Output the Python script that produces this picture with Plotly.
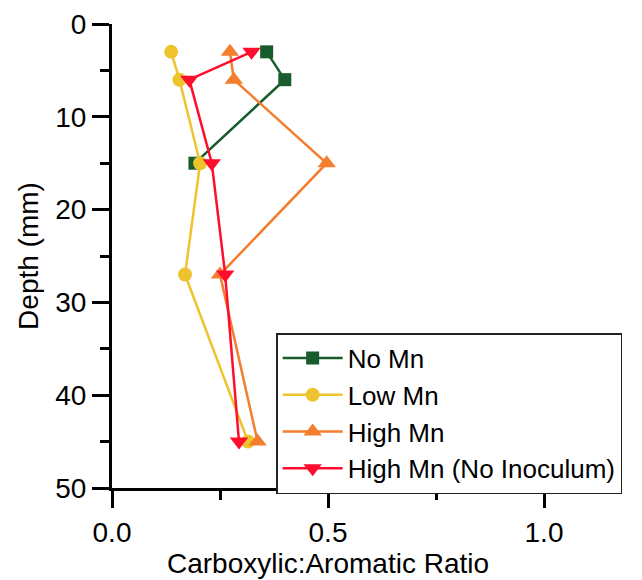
import plotly.graph_objects as go

series_names = ["No Mn", "Low Mn", "High Mn", "High Mn (No Inoculum)"]
depth_no_mn = [3, 6, 15]
ratio_no_mn = [0.358, 0.400, 0.192]
depth_low_mn = [3, 6, 15, 27, 45]
ratio_low_mn = [0.137, 0.156, 0.204, 0.169, 0.315]
depth_high_mn = [3, 6, 15, 27, 45]
ratio_high_mn = [0.273, 0.282, 0.497, 0.250, 0.337]
depth_high_noinoc = [3, 6, 15, 27, 45]
ratio_high_noinoc = [0.323, 0.179, 0.231, 0.262, 0.294]

x_ticks = [0.0, 0.5, 1.0]
x_tick_labels = ["0.0", "0.5", "1.0"]
y_ticks = [0, 10, 20, 30, 40, 50]

colors = ["#165c2c", "#eec42e", "#f47d2e", "#ff0d2d"]
symbols = ["square", "circle", "triangle-up", "triangle-down"]
sizes = [13, 14, 16, 16]

data = [
    (ratio_no_mn, depth_no_mn),
    (ratio_low_mn, depth_low_mn),
    (ratio_high_mn, depth_high_mn),
    (ratio_high_noinoc, depth_high_noinoc),
]

fig = go.Figure()
for i, (xs, ys) in enumerate(data):
    fig.add_trace(go.Scatter(
        x=xs, y=ys, mode="lines+markers", name=series_names[i],
        line=dict(color=colors[i], width=2.5),
        marker=dict(color=colors[i], symbol=symbols[i], size=sizes[i], line=dict(width=0)),
        cliponaxis=False,
    ))

FS = 28
font_family = "Liberation Sans, Arial, sans-serif"
fig.update_layout(
    width=634, height=572,
    margin=dict(l=104, r=98, t=16, b=92, autoexpand=False),
    paper_bgcolor="white", plot_bgcolor="white",
    font=dict(family=font_family, size=FS, color="black"),
    showlegend=True,
    legend=dict(
        x=0.38, y=0.334, xanchor="left", yanchor="top",
        bordercolor="#222222", borderwidth=1.5, bgcolor="white",
        font=dict(size=26), itemwidth=60, tracegroupgap=0,
    ),
)
fig.update_xaxes(
    range=[0, 1.0], tickvals=x_ticks, ticktext=x_tick_labels, automargin=False,
    showgrid=False, zeroline=False, showline=True, linecolor="black", linewidth=3,
    ticks="outside", ticklen=17, tickwidth=3, tickcolor="black",
    tickfont=dict(size=FS),
    minor=dict(dtick=0.25, ticks="outside", ticklen=9, tickwidth=3, tickcolor="black"),
    title=dict(text="Carboxylic:Aromatic Ratio", font=dict(size=FS), standoff=0),
)
fig.update_yaxes(
    range=[50, 0], tickvals=y_ticks, automargin=False,
    showgrid=False, zeroline=False, showline=True, linecolor="black", linewidth=3,
    ticks="outside", ticklen=17, tickwidth=3, tickcolor="black",
    tickfont=dict(size=FS),
    minor=dict(dtick=5, ticks="outside", ticklen=9, tickwidth=3, tickcolor="black"),
    title=dict(text="Depth (mm)", font=dict(size=FS), standoff=9),
)

fig.write_html("out.html")
